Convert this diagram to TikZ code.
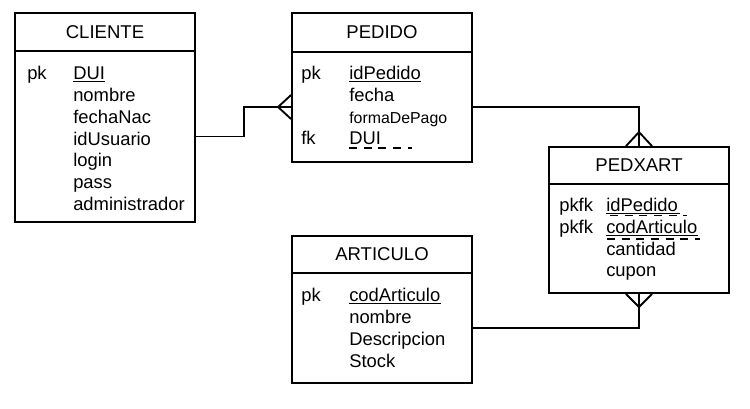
\documentclass[tikz,border=0pt]{standalone}
\usepackage{fontspec}
\setmainfont{Liberation Sans}
\usetikzlibrary{fit}

\tikzset{
	box/.style={draw, line width=1.4pt, inner sep=0pt, fit={#1}},
	title/.style={inner sep=0pt, font=\fontsize{13.9pt}{16pt}\selectfont},
	attr/.style={anchor=base west, inner sep=0pt},
	pkline/.style={line width=0.8pt},
	fkline/.style={line width=0.9pt, dash pattern=on 6pt off 5pt},
	rel/.style={line width=1.4pt}
}

\begin{document}
\begin{tikzpicture}
		[x=0.75pt, y=-0.75pt, font=\fontsize{13.8pt}{16pt}\selectfont]
		
		\useasboundingbox (0,0) rectangle (750,408);
		
		% CLIENTE ------------------------------------------------
		\node[box={(15,13) (195,51)}] (cliente head) {};
		\node[box={(15,51) (195,222)}] (cliente body) {};
		\node[title] (cliente title) at (cliente head) {CLIENTE};
		
		\node[attr] (cli pk) at (27,79) {pk};
		\node[attr] (cli dui) at (73,79) {DUI};
		\node[attr] (cli nombre) at (73,101) {nombre};
		\node[attr] (cli fecha) at (73,123) {fechaNac};
		\node[attr] (cli usuario) at (73,145) {idUsuario};
		\node[attr] (cli login) at (73,166.5) {login};
		\node[attr] (cli pass) at (73,188) {pass};
		\node[attr] (cli admin) at (73,210) {administrador};
		
		\draw[pkline] ([yshift=-1.8pt]cli dui.base west) -- ([yshift=-1.8pt]cli dui.base east);
		
		% PEDIDO -------------------------------------------------
		\node[box={(292,13) (472,52)}] (pedido head) {};
		\node[box={(292,52) (472,162)}] (pedido body) {};
		\node[title] (pedido title) at (pedido head) {PEDIDO};
		
		\node[attr] (ped pk) at (301,79) {pk};
		\node[attr] (ped id) at (349,79) {idPedido};
		\node[attr] (ped fecha) at (349,101) {fecha};
		\node[attr, font=\fontsize{11.9pt}{14pt}\selectfont] (ped forma) at (349,123) {formaDePago};
		\node[attr] (ped fk) at (301,144) {fk};
		\node[attr] (ped dui) at (349,144) {DUI};
		
		\draw[pkline] ([yshift=-1.8pt]ped id.base west) -- ([yshift=-1.8pt]ped id.base east);
		\draw[fkline] ([yshift=-3pt]ped dui.base west) -- ++(63,0);
		
		% PEDXART ------------------------------------------------
		\node[box={(549,147) (729,184)}] (pedxart head) {};
		\node[box={(549,184) (729,293)}] (pedxart body) {};
		\node[title] (pedxart title) at (pedxart head) {PEDXART};
		
		\node[attr] (pxa pk1) at (559,211) {pkfk};
		\node[attr] (pxa id) at (606,211) {idPedido};
		\node[attr] (pxa pk2) at (559,233) {pkfk};
		\node[attr] (pxa cod) at (606,233) {codArticulo};
		\node[attr] (pxa cantidad) at (606,255) {cantidad};
		\node[attr] (pxa cupon) at (606,276) {cupon};
		
		\draw[pkline] ([yshift=-1.8pt]pxa id.base west) -- ++(74,0);
		\draw[fkline] ([shift={(4,4.5)}]pxa id.base west) -- ++(77,0);
		\draw[pkline] ([yshift=-1.8pt]pxa cod.base west) -- ++(92,0);
		\draw[fkline] ([shift={(1,6)}]pxa cod.base west) -- ++(93,0);
		
		% ARTICULO -----------------------------------------------
		\node[box={(292,236) (472,273)}] (articulo head) {};
		\node[box={(292,273) (472,383)}] (articulo body) {};
		\node[title] (articulo title) at (articulo head) {ARTICULO};
		
		\node[attr] (art pk) at (301,301) {pk};
		\node[attr] (art cod) at (349,301) {codArticulo};
		\node[attr] (art nombre) at (349,323) {nombre};
		\node[attr] (art desc) at (349,345) {Descripcion};
		\node[attr] (art stock) at (349,367) {Stock};
		
		\draw[pkline] ([yshift=-1.8pt]art cod.base west) -- ([yshift=-1.8pt]art cod.base east);
		
		% relations ----------------------------------------------
		\draw[rel] (cliente body.east) -- ++(48,0) |- (pedido body.west);
		\draw[rel] ([shift={(0,-12)}]pedido body.west) -- ++(-13,12) -- ++(13,12);
		
		\draw[rel] (pedido body.east) -| (pedxart head.north);
		\draw[rel] ([shift={(-13,0)}]pedxart head.north) -- ++(13,-14) -- ++(13,14);
		
		\draw[rel] (articulo body.east) -| (pedxart body.south);
		\draw[rel] ([shift={(-13,0)}]pedxart body.south) -- ++(13,13) -- ++(13,-13);
\end{tikzpicture}
\end{document}
